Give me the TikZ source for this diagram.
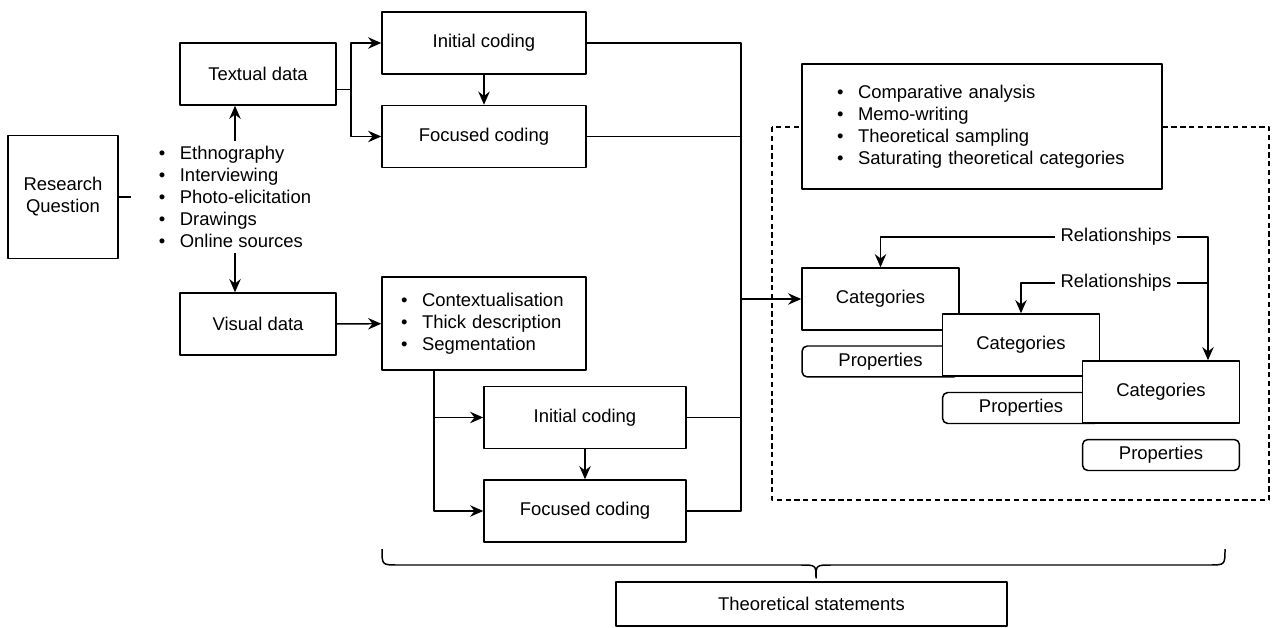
\documentclass[tikz,border=0pt]{standalone}
\usepackage{fontspec}
\setmainfont{Liberation Sans}
\usetikzlibrary{arrows.meta}
\newcommand{\bul}{\makebox[0.42cm][l]{\textbullet}}

\begin{document}
\begin{tikzpicture}[x=0.02cm,y=-0.02cm,line join=round,line width=0.85pt,
		>={Stealth[length=7.5pt,width=6.5pt,inset=2.5pt]},
		every node/.style={font=\fontsize{10.5}{12.5}\selectfont},
		box/.style={draw,fill=white,inner sep=0pt,minimum width=3.12cm,minimum height=1.24cm},
		codebox/.style={box,minimum width=4.08cm},
		catbox/.style={box,minimum width=3.14cm},
		propbox/.style={catbox,rounded corners=3pt,minimum height=0.62cm}]
	\useasboundingbox (0,0) rectangle (1272,628);
	% left part
	\node[box,minimum width=2.2cm,minimum height=2.46cm,align=center] (rq) at (63,197) {Research\\Question};
	\node[inner xsep=0.54cm,inner ysep=0.1cm,align=left] (methods) at (235,197)
		{\bul Ethnography\\\bul Interviewing\\\bul Photo-elicitation\\\bul Drawings\\\bul Online sources};
	\node[box] (textual) at (258,74) {Textual data};
	\node[box] (visual) at (258,324) {Visual data};
	\draw (rq) -- (methods);
	\draw[->] (methods.north) -- (methods.north |- textual.south);
	\draw[->] (methods.south) -- (methods.south |- visual.north);
	% coding of the textual data
	\node[codebox] (init1) at (484,43) {Initial coding};
	\node[codebox] (foc1) at (484,136.5) {Focused coding};
	\coordinate (tsplit) at (351,89.5);
	\draw (tsplit -| textual.east) -- (tsplit);
	\draw[->] (tsplit) |- (init1);
	\draw[->] (tsplit) |- (foc1);
	\draw[->] (init1) -- (foc1);
	% coding of the visual data
	\node[codebox,minimum height=1.86cm,text width=3.32cm,align=left] (ctx) at (484,323.5)
		{\bul Contextualisation\\\bul Thick description\\\bul Segmentation};
	\node[codebox,minimum width=4.04cm] (init2) at (585,417.5) {Initial coding};
	\node[codebox,minimum width=4.04cm] (foc2) at (585,511) {Focused coding};
	\draw[->] (visual) -- (ctx);
	\draw[->] ([xshift=-1cm]ctx.south) |- (init2);
	\draw[->] ([xshift=-1cm]ctx.south) |- (foc2);
	\draw[->] (init2) -- (foc2);
	% analysis
	\draw[dash pattern=on 3pt off 2pt,line width=0.6pt] (772,127) rectangle (1269,500);
	\node[box,minimum width=7.2cm,minimum height=2.5cm,text width=5.8cm,align=left] (comp) at (982,126.5)
		{\bul Comparative analysis\\\bul Memo-writing\\\bul Theoretical sampling\\\bul Saturating theoretical categories};
	\node[catbox] (cat1) at (880.5,299) {Categories};
	\node[propbox] (prop1) at (880.5,361.5) {Properties};
	\node[catbox] (cat2) at (1021,345) {Categories};
	\node[propbox] (prop2) at (1021,408) {Properties};
	\node[catbox] (cat3) at (1161,392) {Categories};
	\node[propbox] (prop3) at (1161,455) {Properties};
	\node[inner xsep=0.1cm] (rel1) at (1116,237) {Relationships};
	\node[inner xsep=0.1cm] (rel2) at (1116,283) {Relationships};
	\coordinate (rdrop) at ([xshift=0.94cm]cat3.north);
	\draw[->] (rel1.west) -| (cat1.north);
	\draw[->] (rel1.east) -| (rdrop);
	\draw (rel2.east) -- (rel2.east -| rdrop);
	\draw[->] (rel2.west) -| (cat2.north);
	\coordinate (merge) at (741,299);
	\draw (init1) -| (merge);
	\draw (foc1) -| (merge);
	\draw (init2) -| (merge);
	\draw (foc2) -| (merge);
	\draw[->] (merge) -- (cat1);
	% brace and result
	\draw (382,549) .. controls (382,565) .. (398,565) -- (800,565) .. controls (816,565) .. (816,578)
		.. controls (816,565) .. (832,565) -- (1209,565) .. controls (1225,565) .. (1225,549);
	\node[box,minimum width=7.82cm,minimum height=0.88cm] (theo) at (811.5,604) {Theoretical statements};
\end{tikzpicture}
\end{document}
